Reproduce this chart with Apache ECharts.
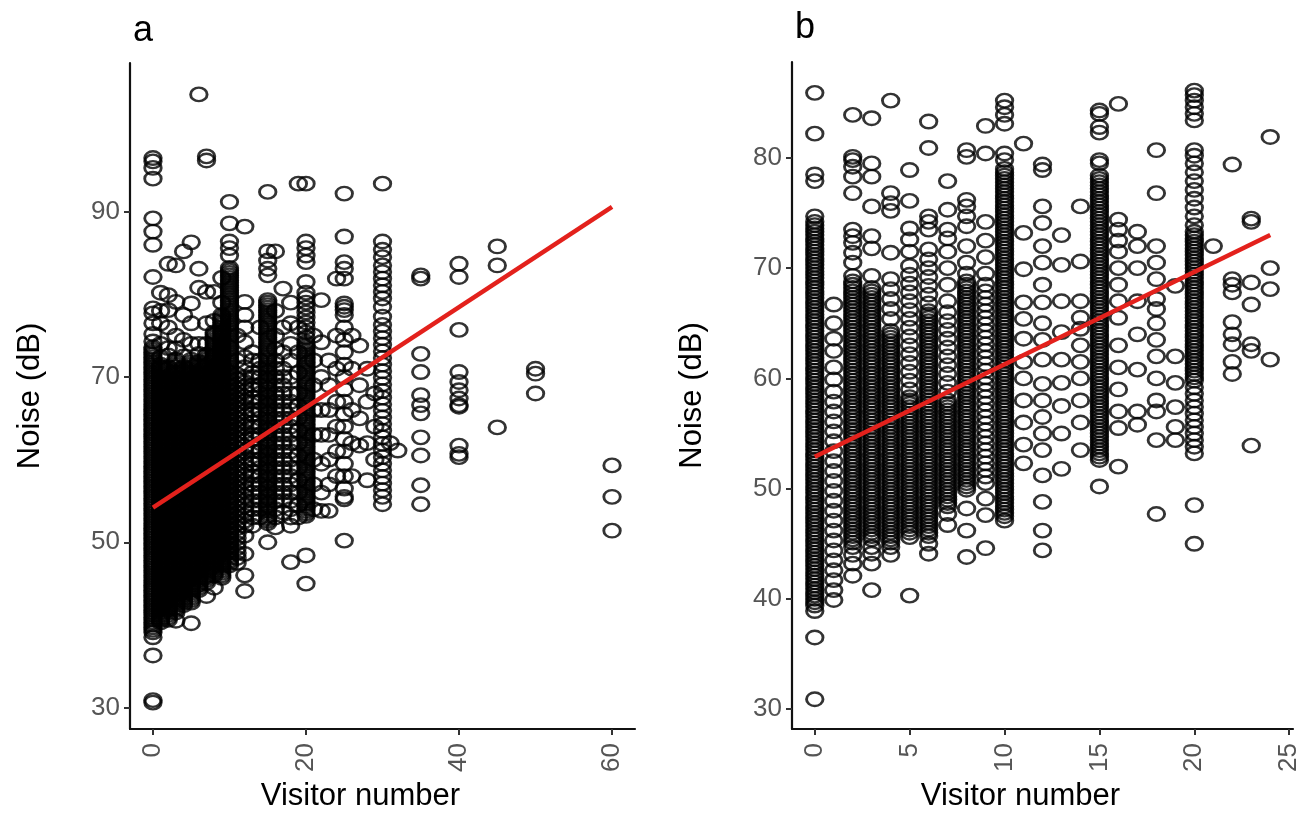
<!DOCTYPE html>
<html><head><meta charset="utf-8">
<script src="https://cdn.jsdelivr.net/npm/echarts@6/dist/echarts.min.js"></script>
<style>html,body{margin:0;padding:0;background:#fff}#c{width:1310px;height:827px}</style>
</head><body><div id="c"></div>
<script>
// Panel a: visitor number columns and noise values (dB)
const aX = [0,1,2,3,4,5,6,7,8,9,10,11,12,13,14,15,16,17,18,19,20,21,22,23,24,25,26,27,28,29,30,31,32,35,40,45,50,60];
const aY = [
[30.6,30.9,36.3,38.5,39.1,39.4,39.7,40,40.3,40.6,40.9,41.2,41.5,41.8,42.1,42.4,42.7,43,43.3,43.6,43.9,44.2,44.5,44.8,45.1,45.4,45.7,46,46.3,46.6,46.9,47.2,47.5,47.8,48.1,48.4,48.7,49,49.3,49.6,49.9,50.2,50.5,50.8,51.1,51.4,51.7,52,52.3,52.6,52.9,53.2,53.5,53.8,54.1,54.4,54.7,55,55.3,55.6,55.9,56.2,56.5,56.8,57.1,57.4,57.7,58,58.3,58.6,58.9,59.2,59.5,59.8,60.1,60.4,60.7,61,61.3,61.6,61.9,62.2,62.5,62.8,63.1,63.4,63.7,64,64.3,64.6,64.9,65.2,65.5,65.8,66.1,66.4,66.7,67,67.3,67.6,67.9,68.2,68.5,68.8,69.1,69.4,69.7,70,70.3,70.6,70.9,71.2,71.5,71.8,72.1,72.4,72.7,73,73.3,73.6,74.3,75.2,76.5,77.7,78.3,82.1,86,87.6,89.2,94,95.3,96.1,96.5],
[40.3,40.6,40.9,41.2,41.5,41.8,42.1,42.4,42.7,43,43.3,43.6,43.9,44.2,44.5,44.8,45.1,45.4,45.7,46,46.3,46.6,46.9,47.2,47.5,47.8,48.1,48.4,48.7,49,49.3,49.6,49.9,50.2,50.5,50.8,51.1,51.4,51.7,52,52.3,52.6,52.9,53.2,53.5,53.8,54.1,54.4,54.7,55,55.3,55.6,55.9,56.2,56.5,56.8,57.1,57.4,57.7,58,58.3,58.6,58.9,59.2,59.5,59.8,60.1,60.4,60.7,61,61.3,61.6,61.9,62.2,62.5,62.8,63.1,63.4,63.7,64,64.3,64.6,64.9,65.2,65.5,65.8,66.1,66.4,66.7,67,67.3,67.6,67.9,68.2,68.5,68.8,69.1,69.4,69.7,70,70.3,70.6,70.9,71.2,71.5,72.4,74,76.5,78,80.2],
[40.6,40.9,41.2,41.5,41.8,42.1,42.4,42.7,43,43.3,43.6,43.9,44.2,44.5,44.8,45.1,45.4,45.7,46,46.3,46.6,46.9,47.2,47.5,47.8,48.1,48.4,48.7,49,49.3,49.6,49.9,50.2,50.5,50.8,51.1,51.4,51.7,52,52.3,52.6,52.9,53.2,53.5,53.8,54.1,54.4,54.7,55,55.3,55.6,55.9,56.2,56.5,56.8,57.1,57.4,57.7,58,58.3,58.6,58.9,59.2,59.5,59.8,60.1,60.4,60.7,61,61.3,61.6,61.9,62.2,62.5,62.8,63.1,63.4,63.7,64,64.3,64.6,64.9,65.2,65.5,65.8,66.1,66.4,66.7,67,67.3,67.6,67.9,68.2,68.5,68.8,69.1,69.4,69.7,70,70.3,70.6,70.9,71.2,72.6,73.5,76,78.1,79.9,83.7],
[40.5,41.5,41.8,42.1,42.4,42.7,43,43.3,43.6,43.9,44.2,44.5,44.8,45.1,45.4,45.7,46,46.3,46.6,46.9,47.2,47.5,47.8,48.1,48.4,48.7,49,49.3,49.6,49.9,50.2,50.5,50.8,51.1,51.4,51.7,52,52.3,52.6,52.9,53.2,53.5,53.8,54.1,54.4,54.7,55,55.3,55.6,55.9,56.2,56.5,56.8,57.1,57.4,57.7,58,58.3,58.6,58.9,59.2,59.5,59.8,60.1,60.4,60.7,61,61.3,61.6,61.9,62.2,62.5,62.8,63.1,63.4,63.7,64,64.3,64.6,64.9,65.2,65.5,65.8,66.1,66.4,66.7,67,67.3,67.6,67.9,68.2,68.5,68.8,69.1,69.4,69.7,70,70.3,70.6,70.9,71.2,71.5,71.8,72.1,73.5,75,79.1,83.5],
[42.4,42.7,43,43.3,43.6,43.9,44.2,44.5,44.8,45.1,45.4,45.7,46,46.3,46.6,46.9,47.2,47.5,47.8,48.1,48.4,48.7,49,49.3,49.6,49.9,50.2,50.5,50.8,51.1,51.4,51.7,52,52.3,52.6,52.9,53.2,53.5,53.8,54.1,54.4,54.7,55,55.3,55.6,55.9,56.2,56.5,56.8,57.1,57.4,57.7,58,58.3,58.6,58.9,59.2,59.5,59.8,60.1,60.4,60.7,61,61.3,61.6,61.9,62.2,62.5,62.8,63.1,63.4,63.7,64,64.3,64.6,64.9,65.2,65.5,65.8,66.1,66.4,66.7,67,67.3,67.6,67.9,68.2,68.5,68.8,69.1,69.4,69.7,70,70.3,70.6,70.9,71.2,72.5,74.5,77.5,85.2],
[40.2,42.7,43,43.3,43.6,43.9,44.2,44.5,44.8,45.1,45.4,45.7,46,46.3,46.6,46.9,47.2,47.5,47.8,48.1,48.4,48.7,49,49.3,49.6,49.9,50.2,50.5,50.8,51.1,51.4,51.7,52,52.3,52.6,52.9,53.2,53.5,53.8,54.1,54.4,54.7,55,55.3,55.6,55.9,56.2,56.5,56.8,57.1,57.4,57.7,58,58.3,58.6,58.9,59.2,59.5,59.8,60.1,60.4,60.7,61,61.3,61.6,61.9,62.2,62.5,62.8,63.1,63.4,63.7,64,64.3,64.6,64.9,65.2,65.5,65.8,66.1,66.4,66.7,67,67.3,67.6,67.9,68.2,68.5,68.8,69.1,69.4,69.7,70,70.3,70.6,70.9,71.2,71.5,71.8,72.1,74,76.5,78.9,86.3],
[44.2,44.5,44.8,45.1,45.4,45.7,46,46.3,46.6,46.9,47.2,47.5,47.8,48.1,48.4,48.7,49,49.3,49.6,49.9,50.2,50.5,50.8,51.1,51.4,51.7,52,52.3,52.6,52.9,53.2,53.5,53.8,54.1,54.4,54.7,55,55.3,55.6,55.9,56.2,56.5,56.8,57.1,57.4,57.7,58,58.3,58.6,58.9,59.2,59.5,59.8,60.1,60.4,60.7,61,61.3,61.6,61.9,62.2,62.5,62.8,63.1,63.4,63.7,64,64.3,64.6,64.9,65.2,65.5,65.8,66.1,66.4,66.7,67,67.3,67.6,67.9,68.2,68.5,68.8,69.1,69.4,69.7,70,70.3,70.6,70.9,71.2,71.5,71.8,72.8,74,80.8,83.1,104.2],
[43.5,45.1,45.4,45.7,46,46.3,46.6,46.9,47.2,47.5,47.8,48.1,48.4,48.7,49,49.3,49.6,49.9,50.2,50.5,50.8,51.1,51.4,51.7,52,52.3,52.6,52.9,53.2,53.5,53.8,54.1,54.4,54.7,55,55.3,55.6,55.9,56.2,56.5,56.8,57.1,57.4,57.7,58,58.3,58.6,58.9,59.2,59.5,59.8,60.1,60.4,60.7,61,61.3,61.6,61.9,62.2,62.5,62.8,63.1,63.4,63.7,64,64.3,64.6,64.9,65.2,65.5,65.8,66.1,66.4,66.7,67,67.3,67.6,67.9,68.2,68.5,68.8,69.1,69.4,69.7,70,70.3,70.6,70.9,71.2,71.5,71.8,72.1,72.4,72.7,74,76.5,80.3,96.2,96.7],
[44.5,46,46.3,46.6,46.9,47.2,47.5,47.8,48.1,48.4,48.7,49,49.3,49.6,49.9,50.2,50.5,50.8,51.1,51.4,51.7,52,52.3,52.6,52.9,53.2,53.5,53.8,54.1,54.4,54.7,55,55.3,55.6,55.9,56.2,56.5,56.8,57.1,57.4,57.7,58,58.3,58.6,58.9,59.2,59.5,59.8,60.1,60.4,60.7,61,61.3,61.6,61.9,62.2,62.5,62.8,63.1,63.4,63.7,64,64.3,64.6,64.9,65.2,65.5,65.8,66.1,66.4,66.7,67,67.3,67.6,67.9,68.2,68.5,68.8,69.1,69.4,69.7,70,70.3,70.6,70.9,71.2,71.5,71.8,72.1,72.4,72.7,73,73.3,73.6,73.9,74.2,74.5,74.8,75.1,75.4,76.8,80.3],
[45.7,46,46.3,46.6,46.9,47.2,47.5,47.8,48.1,48.4,48.7,49,49.3,49.6,49.9,50.2,50.5,50.8,51.1,51.4,51.7,52,52.3,52.6,52.9,53.2,53.5,53.8,54.1,54.4,54.7,55,55.3,55.6,55.9,56.2,56.5,56.8,57.1,57.4,57.7,58,58.3,58.6,58.9,59.2,59.5,59.8,60.1,60.4,60.7,61,61.3,61.6,61.9,62.2,62.5,62.8,63.1,63.4,63.7,64,64.3,64.6,64.9,65.2,65.5,65.8,66.1,66.4,66.7,67,67.3,67.6,67.9,68.2,68.5,68.8,69.1,69.4,69.7,70,70.3,70.6,70.9,71.2,71.5,71.8,72.1,72.4,72.7,73,73.3,73.6,73.9,74.2,74.5,74.8,75.1,75.4,75.7,76,76.3,76.6,76.9,77.2,77.5,79,82],
[47.2,47.5,47.8,48.1,48.4,48.7,49,49.3,49.6,49.9,50.2,50.5,50.8,51.1,51.4,51.7,52,52.3,52.6,52.9,53.2,53.5,53.8,54.1,54.4,54.7,55,55.3,55.6,55.9,56.2,56.5,56.8,57.1,57.4,57.7,58,58.3,58.6,58.9,59.2,59.5,59.8,60.1,60.4,60.7,61,61.3,61.6,61.9,62.2,62.5,62.8,63.1,63.4,63.7,64,64.3,64.6,64.9,65.2,65.5,65.8,66.1,66.4,66.7,67,67.3,67.6,67.9,68.2,68.5,68.8,69.1,69.4,69.7,70,70.3,70.6,70.9,71.2,71.5,71.8,72.1,72.4,72.7,73,73.3,73.6,73.9,74.2,74.5,74.8,75.1,75.4,75.7,76,76.3,76.6,76.9,77.2,77.5,77.8,78.1,78.4,78.7,79,79.3,79.6,79.9,80.2,80.5,80.8,81.1,81.4,81.7,82,82.3,82.6,82.9,83.2,84.7,85.6,86.4,88.6,91.2],
[47.5,48.1,48.7,49.3,49.9,50.5,51.1,51.7,52.3,52.9,53.5,54.1,54.7,55.3,55.9,56.5,57.1,57.7,58.3,58.9,59.5,60.1,60.7,61.3,61.9,62.5,63.1,63.7,64.3,64.9,65.5,66.1,66.7,67.3,67.9,68.5,69.1,69.7,70.3,72,75],
[44.1,46,48.6,50.8,52,52.6,53.2,53.8,54.4,55,55.6,56.2,56.8,57.4,58,58.6,59.2,59.8,60.4,61,61.6,62.2,62.8,63.4,64,64.6,65.2,65.8,66.4,67,67.6,68.2,68.8,69.4,70,71.2,72.4,74.2,76,77.5,79.1,88.2],
[52,53,54,55,56,57,58,58.5,59.5,60,61,61.5,62.5,63,64,64.5,65.5,66,67,67.5,68.5,69,70,70.5,72,73],
[53,54,55,56,57,58,59,60,61,62,63,64,65,66,67,68,69,70,71,72,76],
[50,52.3,52.6,52.9,53.2,53.5,53.8,54.1,54.4,54.7,55,55.3,55.6,55.9,56.2,56.5,56.8,57.1,57.4,57.7,58,58.3,58.6,58.9,59.2,59.5,59.8,60.1,60.4,60.7,61,61.3,61.6,61.9,62.2,62.5,62.8,63.1,63.4,63.7,64,64.3,64.6,64.9,65.2,65.5,65.8,66.1,66.4,66.7,67,67.3,67.6,67.9,68.2,68.5,68.8,69.1,69.4,69.7,70,70.3,70.6,70.9,71.2,71.5,71.8,72.1,72.4,72.7,73,73.3,73.6,73.9,74.2,74.5,74.8,75.1,75.4,75.7,76,76.3,76.6,76.9,77.2,77.5,77.8,78.1,78.4,78.7,79,79.3,82.3,83.1,84.1,85.2,92.4],
[51.8,53,54,55,56,57,58,59,60,61,62,63,64,65,66,67,68,69,70,71,72,73.4,75,78,85.2],
[53.6,55,56,57,58,59,60,61,62,63,64,65,66,67,68,69,70,71,73,76,80.7],
[47.6,52,53,54,55,56,57,58,59,60,61,62,63,64,65,66,67,68,70,72,74,76.5,79],
[53,54.5,56,57.5,59,60.5,62,63.5,65,66.5,68,70.5,73,76,93.4],
[45,48.4,53.2,53.5,53.8,54.1,54.4,54.7,55,55.3,55.6,55.9,56.2,56.5,56.8,57.1,57.4,57.7,58,58.3,58.6,58.9,59.2,59.5,59.8,60.1,60.4,60.7,61,61.3,61.6,61.9,62.2,62.5,62.8,63.1,63.4,63.7,64,64.3,64.6,64.9,65.2,65.5,65.8,66.1,66.4,66.7,67,67.3,67.6,67.9,68.2,68.5,68.8,69.1,69.4,69.7,70,70.3,70.6,70.9,71.2,71.5,71.8,72.1,72.4,72.7,73,73.3,73.6,73.9,74.2,74.8,75.4,76,76.6,77.2,77.8,78.4,79,79.6,80.2,81.5,83.9,84.7,85.6,86.4,93.4],
[54,57,60,63,66,69,72,75],
[53.8,56,59.5,63,66,70,74.2,79.3],
[53.8,57,60,63,66,69,72],
[58,61,64,67,71,75,81.9],
[50.2,55.2,55.5,56.5,58,59.5,61,62.5,64,65.5,67,68.5,70,71.5,73,74.5,76,77.5,78.1,78.5,78.9,81.9,83.1,83.9,87,92.2],
[58,62,66,71,75],
[61.7,65,69,73.8],
[57.5,62,67,71],
[60,64,68],
[54.6,55.5,56.3,57.1,57.9,58.7,59.5,60.3,61.1,61.9,62.7,63.5,64.3,65.1,65.9,66.7,67.5,68.3,69.1,69.9,70.7,71.5,72.3,73.1,73.9,74.7,75.5,76.3,77.3,78.5,79.5,80.3,81.1,81.9,82.7,83.5,84.5,85.4,86.4,93.4],
[62],
[61.1],
[54.6,56.9,60.5,62.7,65.6,66.6,67.8,70.6,72.8,81.9,82.3],
[60.3,60.7,61.7,66.4,66.6,67.4,68.4,69.4,70.6,75.7,82.1,83.7],
[63.9,83.5,85.8],
[68,70.4,71],
[51.4,55.5,59.3]
];

// Panel b
const bX = [0,1,2,3,4,5,6,7,8,9,10,11,12,13,14,15,16,17,18,19,20,21,22,23,24];
const bY = [
[30.9,36.5,38.9,39.4,39.7,40,40.3,40.6,40.9,41.2,41.5,41.8,42.1,42.4,42.7,43,43.3,43.6,43.9,44.2,44.5,44.8,45.1,45.4,45.7,46,46.3,46.6,46.9,47.2,47.5,47.8,48.1,48.4,48.7,49,49.3,49.6,49.9,50.2,50.5,50.8,51.1,51.4,51.7,52,52.3,52.6,52.9,53.2,53.5,53.8,54.1,54.4,54.7,55,55.3,55.6,55.9,56.2,56.5,56.8,57.1,57.4,57.7,58,58.3,58.6,58.9,59.2,59.5,59.8,60.1,60.4,60.7,61,61.3,61.6,61.9,62.2,62.5,62.8,63.1,63.4,63.7,64,64.3,64.6,64.9,65.2,65.5,65.8,66.1,66.4,66.7,67,67.3,67.6,67.9,68.2,68.5,68.8,69.1,69.4,69.7,70,70.3,70.6,70.9,71.2,71.5,71.8,72.1,72.4,72.7,73,73.3,73.6,73.9,74.2,74.7,77.9,78.5,82.2,85.9],
[39.9,40.8,41.7,42.6,43.5,44.4,45.3,46.2,47.1,48,48.9,49.8,50.7,51.6,52.5,53.4,54.3,55.2,56.1,57,57.9,58.8,59.9,61,62.5,63.6,65,66.7],
[42.1,43.2,44,44.7,45.1,45.4,45.7,46,46.3,46.6,46.9,47.2,47.5,47.8,48.1,48.4,48.7,49,49.3,49.6,49.9,50.2,50.5,50.8,51.1,51.4,51.7,52,52.3,52.6,52.9,53.2,53.5,53.8,54.1,54.4,54.7,55,55.3,55.6,55.9,56.2,56.5,56.8,57.1,57.4,57.7,58,58.3,58.6,58.9,59.2,59.5,59.8,60.1,60.4,60.7,61,61.3,61.6,61.9,62.2,62.5,62.8,63.1,63.4,63.7,64,64.3,64.6,64.9,65.2,65.5,65.8,66.1,66.4,66.7,67,67.3,67.6,67.9,68.2,68.5,68.8,69.3,70.5,71.4,72.3,72.9,73.5,76.8,78.3,79.2,79.8,80.1,83.9],
[40.8,43.2,44.1,44.7,45.4,45.7,46,46.3,46.6,46.9,47.2,47.5,47.8,48.1,48.4,48.7,49,49.3,49.6,49.9,50.2,50.5,50.8,51.1,51.4,51.7,52,52.3,52.6,52.9,53.2,53.5,53.8,54.1,54.4,54.7,55,55.3,55.6,55.9,56.2,56.5,56.8,57.1,57.4,57.7,58,58.3,58.6,58.9,59.2,59.5,59.8,60.1,60.4,60.7,61,61.3,61.6,61.9,62.2,62.5,62.8,63.1,63.4,63.7,64,64.3,64.6,64.9,65.2,65.5,65.8,66.1,66.4,66.7,67,67.3,67.6,67.9,68.2,69.3,71.8,72.9,75.6,78.3,79.5,83.6],
[44,44.7,45.1,45.4,45.7,46,46.3,46.6,46.9,47.2,47.5,47.8,48.1,48.4,48.7,49,49.3,49.6,49.9,50.2,50.5,50.8,51.1,51.4,51.7,52,52.3,52.6,52.9,53.2,53.5,53.8,54.1,54.4,54.7,55,55.3,55.6,55.9,56.2,56.5,56.8,57.1,57.4,57.7,58,58.3,58.6,58.9,59.2,59.5,59.8,60.1,60.4,60.7,61,61.3,61.6,61.9,62.2,62.5,62.8,63.1,63.4,63.7,64,64.3,65.4,66.3,67.2,68.1,69,71.4,75.2,75.9,76.8,85.2],
[40.3,45.6,46,46.3,46.6,46.9,47.2,47.5,47.8,48.1,48.4,48.7,49,49.3,49.6,49.9,50.2,50.5,50.8,51.1,51.4,51.7,52,52.3,52.6,52.9,53.2,53.5,53.8,54.1,54.4,54.7,55,55.3,55.6,55.9,56.2,56.5,56.8,57.1,57.4,57.7,58,58.3,59,59.8,60.6,61.4,62.2,63,63.8,64.6,65.4,66.2,67,67.8,68.6,69.4,70.2,71.5,72.6,73.6,76.1,78.9],
[44.1,45,45.7,46,46.3,46.6,46.9,47.2,47.5,47.8,48.1,48.4,48.7,49,49.3,49.6,49.9,50.2,50.5,50.8,51.1,51.4,51.7,52,52.3,52.6,52.9,53.2,53.5,53.8,54.1,54.4,54.7,55,55.3,55.6,55.9,56.2,56.5,56.8,57.1,57.4,57.7,58,58.3,58.6,58.9,59.2,59.5,59.8,60.1,60.4,60.7,61,61.3,61.6,61.9,62.2,62.5,62.8,63.1,63.4,63.7,64,64.3,64.6,64.9,65.2,65.5,65.8,66.1,66.8,67.6,68.4,69.2,70,70.8,71.7,73.5,74.2,74.7,80.9,83.3],
[46.7,47.7,48.4,48.7,49,49.3,49.6,49.9,50.2,50.5,50.8,51.1,51.4,51.7,52,52.3,52.6,52.9,53.2,53.5,53.8,54.1,54.4,54.7,55,55.3,55.6,55.9,56.2,56.5,56.8,57.1,57.4,57.7,58,58.8,59.6,60.4,61.2,62,62.8,63.6,64.4,65.2,66,67,68.5,70,71.5,72.7,73.5,75.3,77.9],
[43.8,46.2,48.2,49.9,50.2,50.5,50.8,51.1,51.4,51.7,52,52.3,52.6,52.9,53.2,53.5,53.8,54.1,54.4,54.7,55,55.3,55.6,55.9,56.2,56.5,56.8,57.1,57.4,57.7,58,58.3,58.6,58.9,59.2,59.5,59.8,60.1,60.4,60.7,61,61.3,61.6,61.9,62.2,62.5,62.8,63.1,63.4,63.7,64,64.3,64.6,64.9,65.2,65.5,65.8,66.1,66.4,66.7,67,67.3,67.6,67.9,68.2,68.5,68.8,69.5,70.5,72,73.8,74.7,75.6,76.2,80.1,80.7],
[44.6,47.6,49.1,50.5,51.1,51.7,52.3,52.9,53.5,54.1,54.7,55.3,55.9,56.5,57.1,57.7,58.3,58.9,59.5,60.1,60.7,61.3,61.9,62.5,63.1,63.7,64.3,64.9,65.5,66.1,66.7,67.3,67.9,68.5,69.5,71,72.5,74.2,80.4,82.9],
[47.1,47.5,47.8,48.1,48.4,48.7,49,49.3,49.6,49.9,50.2,50.5,50.8,51.1,51.4,51.7,52,52.3,52.6,52.9,53.2,53.5,53.8,54.1,54.4,54.7,55,55.3,55.6,55.9,56.2,56.5,56.8,57.1,57.4,57.7,58,58.3,58.6,58.9,59.2,59.5,59.8,60.1,60.4,60.7,61,61.3,61.6,61.9,62.2,62.5,62.8,63.1,63.4,63.7,64,64.3,64.6,64.9,65.2,65.5,65.8,66.1,66.4,66.7,67,67.3,67.6,67.9,68.2,68.5,68.8,69.1,69.4,69.7,70,70.3,70.6,70.9,71.2,71.5,71.8,72.1,72.4,72.7,73,73.3,73.6,73.9,74.2,74.5,74.8,75.1,75.4,75.7,76,76.3,76.6,76.9,77.2,77.5,77.8,78.1,78.4,78.7,79,79.8,80.4,83.1,83.9,84.6,85.2],
[52.3,54,56,58,60,61.5,63.6,65.4,66.9,69.9,73.2,81.3],
[44.4,46.2,48.8,51.2,53.5,55,56.5,58,59.5,61.7,63.5,65,66.9,68.5,70.5,72,74.1,75.6,78.9,79.4],
[51.8,55,57.5,59.6,61.7,64.2,67,70.3,73],
[53.5,56,58,60,61.5,63,64.5,65.5,67,70.6,75.6],
[50.2,52.6,52.9,53.2,53.5,53.8,54.1,54.4,54.7,55,55.3,55.6,55.9,56.2,56.5,56.8,57.1,57.4,57.7,58,58.3,58.6,58.9,59.2,59.5,59.8,60.1,60.4,60.7,61,61.3,61.6,61.9,62.2,62.5,62.8,63.1,63.4,63.7,64,64.3,64.6,64.9,65.2,65.5,65.8,66.1,66.4,66.7,67,67.3,67.6,67.9,68.2,68.5,68.8,69.1,69.4,69.7,70,70.3,70.6,70.9,71.2,71.5,71.8,72.1,72.4,72.7,73,73.3,73.6,73.9,74.2,74.5,74.8,75.1,75.4,75.7,76,76.3,76.6,76.9,77.2,77.5,77.8,78.1,78.4,79.5,79.8,82.3,82.8,84,84.3],
[52,55.5,57,59,61,63,65.5,67,68.5,70,71.5,72.5,73.5,74.4,84.9],
[55.8,57,60.8,64,67,70,72,73.3],
[47.7,54.4,57,58,60,62,63.5,65,66.3,67.2,69,70.5,72,76.8,80.7],
[54.4,55.6,57.4,59.6,62,68.4],
[45,48.5,53.2,53.8,54.4,55,55.6,56.2,56.8,57.4,58,58.6,59.2,59.8,60.1,60.4,60.7,61,61.3,61.6,61.9,62.2,62.5,62.8,63.1,63.4,63.7,64,64.3,64.6,64.9,65.2,65.5,65.8,66.1,66.4,66.7,67,67.3,67.6,67.9,68.2,68.5,68.8,69.1,69.4,69.7,70,70.3,70.6,70.9,71.2,71.5,71.8,72.1,72.4,72.7,73,73.3,73.9,74.7,75.5,76.3,77.1,77.9,78.7,79.5,80.2,80.7,83.4,84,84.6,85.2,85.7,86.1],
[72],
[60.4,61.5,63.1,64,65.1,67.8,68.5,69,79.4],
[53.9,62.5,63.1,66.7,68.7,74.2,74.5],
[61.7,68.1,70,81.9]
];

// Fitted regression lines (endpoints)
const aFit = [[0,54.2],[60,90.6]];
const bFit = [[0,52.9],[24,73.0]];
// Tick labels
const aTicksX = [0,20,40,60], aTicksY = [30,50,70,90];
const bTicksX = [0,5,10,15,20,25], bTicksY = [30,40,50,60,70,80];

function pts(xs, ys){ const out=[]; xs.forEach((x,i)=>ys[i].forEach(y=>out.push([x,y]))); return out; }

const FONT = 'Liberation Sans, Arial, Helvetica, sans-serif';
const RING = 'path://M1,0C1,0.552,0.552,1,0,1C-0.552,1,-1,0.552,-1,0C-1,-0.552,-0.552,-1,0,-1C0.552,-1,1,-0.552,1,0Z';
function axis(grid, min, max, ticks, isX, name, gap){
  return {
    type:'value', gridIndex:grid, min:min, max:max, name:name, nameLocation:'middle', nameGap:gap,
    nameTextStyle:{fontSize:31, color:'#000', fontFamily:FONT, padding:isX?[0,44,0,0]:0},
    axisLine:{show:true, onZero:false, lineStyle:{color:'#111', width:2.2}},
    axisTick:{show:true, length:6, customValues:ticks, lineStyle:{color:'#333', width:2}},
    axisLabel:{customValues:ticks, fontSize:26, color:'#555', fontFamily:FONT, margin:isX?14:10, rotate:isX?90:0},
    splitLine:{show:false}
  };
}
function scat(xi, data){
  return {type:'scatter', xAxisIndex:xi, yAxisIndex:xi, data:data, symbol:RING, symbolSize:[16.5,13.5],
    itemStyle:{color:'rgba(0,0,0,0)', borderColor:'#000', borderWidth:2.6}, silent:true, progressive:0, large:false, z:2};
}
function fit(xi, data){
  return {type:'line', xAxisIndex:xi, yAxisIndex:xi, data:data, symbol:'none', lineStyle:{color:'#e3211c', width:4.5}, silent:true, z:5};
}

const chart = echarts.init(document.getElementById('c'), null, {renderer:'canvas'});
chart.setOption({
  animation:false,
  backgroundColor:'#fff',
  title:[
    {text:'a', left:128, top:8, textStyle:{fontSize:36, fontWeight:'normal', color:'#000', fontFamily:FONT}},
    {text:'b', left:790, top:5, textStyle:{fontSize:36, fontWeight:'normal', color:'#000', fontFamily:FONT}}
  ],
  grid:[
    {left:130, top:63, width:505, height:666},
    {left:792, top:62, width:501, height:667}
  ],
  xAxis:[
    axis(0, -3, 63, aTicksX, true, 'Visitor number', 52),
    axis(1, -1.2, 25.2, bTicksX, true, 'Visitor number', 52)
  ],
  yAxis:[
    axis(0, 27.4, 108, aTicksY, false, 'Noise (dB)', 84),
    axis(1, 28.2, 88.7, bTicksY, false, 'Noise (dB)', 84)
  ],
  series:[
    scat(0, pts(aX, aY)), fit(0, aFit),
    scat(1, pts(bX, bY)), fit(1, bFit)
  ]
});
</script></body></html>
